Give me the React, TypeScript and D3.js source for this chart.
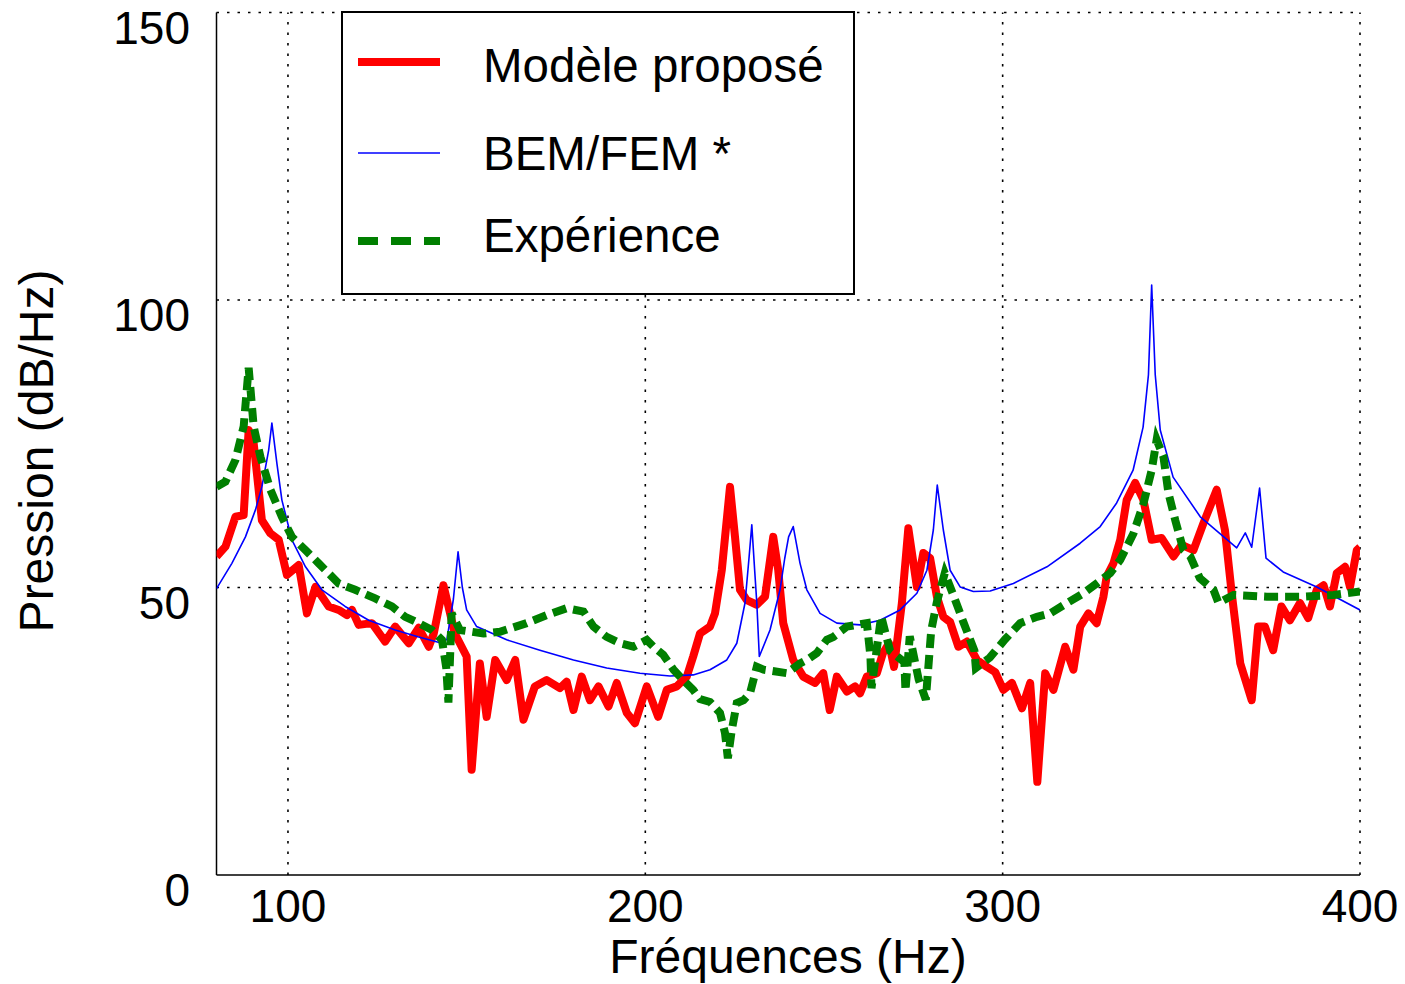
import React from "react";
import * as d3 from "d3";

// ---------- Data ----------
const xTicks = [100, 200, 300, 400];
const yTicks = [0, 50, 100, 150];

const legendLabels = ["Modèle proposé", "BEM/FEM *", "Expérience"];

// Modèle proposé (red)
const redFreq = [80, 82.5, 85.3, 87.6, 89.0, 90.4, 92.7, 95.1, 97.4, 99.7, 103, 105.3, 107.7, 111.4, 114.2, 116.5, 117.9, 119.8, 123.5, 127.2, 130, 133.8, 136.6, 139.4, 140.8, 143.5, 146.7, 150, 151.4, 153.7, 155.6, 158, 161.2, 163.6, 165.9, 169.1, 172.4, 176.1, 178, 179.9, 182.2, 184.5, 186.9, 189.7, 192, 194.8, 197.1, 200.4, 203.6, 206, 208.8, 211.6, 213.4, 215.3, 218.1, 219.5, 221.4, 223.7, 225.1, 226.5, 228.4, 231.2, 233.5, 235.8, 237.2, 238.6, 241.4, 244.2, 247.5, 249.8, 251.6, 253.6, 256.4, 258.7, 260.1, 262, 264.8, 266.5, 268.2, 269.6, 271.8, 273.6, 276, 277.8, 279.7, 281.6, 283.4, 285.3, 287.6, 290, 292.8, 295.6, 297.9, 300.2, 302.6, 305.4, 307.7, 309.7, 311.9, 314.2, 317.5, 319.8, 321.7, 324, 326.3, 328.2, 329.1, 331, 332.9, 334.7, 337.1, 339.4, 341.7, 344.5, 347.8, 350.1, 353.4, 356.2, 359.9, 362.2, 364.1, 366.5, 369.7, 371.5, 373.4, 375.7, 378, 380.4, 383.2, 385.5, 387.9, 389.8, 391.6, 393.5, 395.8, 397.2, 399.1, 400];
const redVal = [55.4, 57.1, 62.3, 62.6, 77.4, 75.1, 61.7, 59.4, 58.3, 52.2, 53.9, 45.5, 50.1, 46.7, 46.1, 45.2, 46.1, 43.5, 43.8, 40.6, 43.2, 40.3, 43, 39.7, 42, 50.4, 42, 38, 18.3, 36.8, 27.5, 37.4, 33.9, 37.4, 27, 32.8, 33.9, 32.5, 33.6, 28.7, 34.5, 30.4, 32.8, 29.3, 33.4, 28.2, 26.4, 32.8, 27.5, 32.2, 32.8, 34.5, 38, 42, 43.2, 45.5, 53, 67.5, 58.8, 49.6, 47.8, 47, 48.4, 58.8, 53, 43.8, 37.4, 34.5, 33.4, 35.1, 28.7, 34.5, 31.9, 32.8, 31.6, 34.5, 35.1, 38.6, 40.3, 36.2, 47.3, 60.3, 50.1, 56, 55.1, 48.4, 44.9, 44, 39.7, 40.6, 37.4, 36.2, 35.3, 32.2, 33.4, 29, 33.4, 16.2, 35.1, 32.2, 39.7, 35.7, 43.2, 45.5, 43.8, 48.4, 51.9, 54.2, 58.3, 65.2, 68.2, 65.2, 58.3, 58.6, 55.4, 57.4, 56.5, 61.2, 67, 60, 49, 36.8, 30.4, 43.2, 43.2, 39.1, 46.7, 44.3, 47.3, 44.7, 49.6, 50.4, 46.7, 52.5, 53.6, 50.1, 56.5, 57];

// BEM/FEM * (blue)
const blueFreq = [80, 84.3, 88.1, 90.9, 92.7, 94.6, 95.5, 96.9, 98.3, 101.1, 104.9, 109.5, 116, 122.6, 130, 136.6, 143.1, 144.5, 146.3, 147.6, 148.8, 150, 152.8, 161.2, 170.5, 179.9, 189.2, 198.5, 206.9, 213.4, 218.1, 222.8, 225.6, 227.9, 229.0, 229.8, 230.6, 231.2, 231.9, 234.9, 237.7, 239, 240.1, 241.4, 243.3, 245.2, 248.9, 253.6, 260.1, 265.7, 271.3, 276, 278.8, 280.6, 281.7, 283.4, 285.3, 288.1, 291.8, 296.5, 303, 312.4, 321.7, 327.3, 331.9, 336.5, 339.3, 340.8, 341.7, 342.7, 344.1, 347.7, 355.3, 365.5, 367.9, 369.7, 371.9, 373.7, 378.5, 387.9, 400];
const blueVal = [49.8, 54.2, 58.8, 63.5, 67.5, 73.9, 78.6, 71.6, 65.2, 58.3, 53.6, 49.6, 46.7, 44.3, 42.6, 41.4, 40.3, 41, 48, 56.2, 50, 46.1, 43.2, 40.9, 39.1, 37.4, 36, 35.1, 34.6, 34.8, 35.7, 37.4, 40.3, 47.3, 55, 60.9, 53, 47.3, 38, 42.6, 49.6, 55, 58.8, 60.6, 54.2, 49.6, 45.5, 43.8, 43.5, 44.3, 46.1, 49, 53, 60, 67.8, 60, 53, 50.1, 49.3, 49.4, 50.7, 53.6, 57.7, 60.6, 64.7, 70.4, 77.9, 87, 102.6, 87, 77.4, 69.2, 62.3, 56.9, 59.5, 57, 67.3, 55.1, 52.7, 50.1, 46.1];

// Expérience (green)
const greenFreq = [80, 82.5, 85.3, 87.6, 89, 90.4, 92.3, 95.1, 98.3, 101.1, 104.9, 108.6, 114.2, 118.8, 124.4, 129.1, 132.8, 136.6, 140.3, 143.1, 144.3, 144.9, 145.8, 148.1, 154.7, 159.3, 166.8, 172.4, 178, 182.7, 185.5, 189.2, 192.9, 196.7, 200.4, 202.3, 205, 207.9, 210.6, 213.4, 215.3, 218.1, 220.9, 222.3, 223.1, 224.2, 225.6, 227.5, 229.3, 231.2, 233.1, 239.6, 243.3, 245.2, 248, 250.8, 252.6, 256.4, 262, 263, 263.3, 266, 268.5, 272.5, 272.8, 274, 276.5, 278.5, 280, 281.6, 283.8, 286.3, 289, 292.1, 292.5, 296.4, 300.7, 304.9, 309.6, 313.3, 318, 322.6, 326.3, 330.1, 332.9, 336.6, 339.4, 341.7, 343.1, 345, 346.4, 348.3, 350.6, 352.5, 355.2, 359, 360.4, 364.6, 373.9, 383.2, 392.6, 400];
const greenVal = [67.5, 68.4, 72.2, 78, 88.2, 78, 72.7, 67, 62.3, 58.8, 56.5, 54.2, 50.7, 49.6, 48.1, 46.7, 44.9, 43.8, 42.6, 40.9, 36, 30, 45.5, 42.6, 42, 42.3, 43.8, 45.2, 46.4, 45.8, 43.2, 41.4, 40.3, 39.7, 40.9, 39.7, 38.3, 35.7, 33.9, 32.2, 30.6, 30.1, 28.2, 24.7, 20.3, 25.2, 29.9, 30.4, 31.6, 36.2, 35.7, 35.1, 36.8, 37.4, 38.6, 40.9, 41.4, 43.2, 43.8, 38, 32.5, 45, 39, 37, 32, 41.5, 34, 30.5, 42.5, 47.5, 52.5, 48.5, 44, 39, 36, 37.8, 41, 43.8, 44.9, 45.5, 47.3, 49, 50.7, 52.5, 54.8, 59.4, 64.6, 70.4, 75.7, 72.7, 66.4, 61.7, 56.5, 55.4, 51.6, 49.6, 47.3, 48.7, 48.4, 48.4, 48.7, 49.3];

// ---------- Chart ----------
const W = 1405;
const H = 984;
const FONT = "'Liberation Sans', Arial, Helvetica, sans-serif";

export default function App() {
  const x = d3.scaleLinear().domain([80, 400]).range([216.5, 1360]);
  const y = d3.scaleLinear().domain([0, 150]).range([875, 12.5]);

  const line = d3
    .line<[number, number]>()
    .x((d) => x(d[0]))
    .y((d) => y(d[1]));

  const zip = (f: number[], v: number[]) => f.map((ff, i) => [ff, v[i]] as [number, number]);

  const [x0, x1] = x.range();
  const [y0, y1] = y.range();

  const gridDash = "2.5,8";

  return (
    <svg
      width={W}
      height={H}
      style={{ position: "absolute", left: 0, top: 0, background: "#fff" }}
      fontFamily={FONT}
    >
      <rect x={0} y={0} width={W} height={H} fill="#fff" />
      <defs>
        <clipPath id="plotClip">
          <rect x={x0} y={y1} width={x1 - x0} height={y0 - y1} />
        </clipPath>
      </defs>

      {/* grid lines */}
      {xTicks.map((t) => (
        <line key={"gx" + t} x1={x(t)} x2={x(t)} y1={y0} y2={y1} stroke="#000" strokeWidth={1.6} strokeDasharray={gridDash} />
      ))}
      {yTicks.filter((t) => t > 0).map((t) => (
        <line key={"gy" + t} x1={x0} x2={x1} y1={y(t)} y2={y(t)} stroke="#000" strokeWidth={1.6} strokeDasharray={gridDash} />
      ))}

      {/* axis spines */}
      <line x1={x0} x2={x0} y1={y1} y2={y0} stroke="#000" strokeWidth={1.5} />
      <line x1={x0} x2={x1} y1={y0} y2={y0} stroke="#000" strokeWidth={1.5} />

      {/* curves */}
      <g clipPath="url(#plotClip)" fill="none">
        <path d={line(zip(redFreq, redVal)) || ""} stroke="#ff0000" strokeWidth={8} strokeLinejoin="round" />
        <path d={line(zip(blueFreq, blueVal)) || ""} stroke="#0000ff" strokeWidth={1.6} strokeLinejoin="round" />
        <path d={line(zip(greenFreq, greenVal)) || ""} stroke="#007f00" strokeWidth={8} strokeDasharray="14,7" />
      </g>

      {/* tick labels */}
      {yTicks.map((t) => (
        <text key={"ty" + t} x={190} y={y(t) + 31} textAnchor="end" fontSize={46} fill="#000">
          {t}
        </text>
      ))}
      {xTicks.map((t) => (
        <text key={"tx" + t} x={x(t)} y={922} textAnchor="middle" fontSize={46} fill="#000">
          {t}
        </text>
      ))}

      {/* axis labels */}
      <text x={788} y={973} textAnchor="middle" fontSize={48} fill="#000">
        Fréquences (Hz)
      </text>
      <text transform="translate(53,451) rotate(-90)" textAnchor="middle" fontSize={48} fill="#000">
        Pression (dB/Hz)
      </text>

      {/* legend */}
      <g>
        <rect x={342} y={12} width={512} height={282} fill="#fff" stroke="#000" strokeWidth={2} />
        <line x1={358} x2={440} y1={62} y2={62} stroke="#ff0000" strokeWidth={8} />
        <line x1={358} x2={440} y1={153} y2={153} stroke="#0000ff" strokeWidth={1.6} />
        <line x1={358} x2={440} y1={241} y2={241} stroke="#007f00" strokeWidth={8} strokeDasharray="20,13" />
        <text x={483} y={82} fontSize={47.5} fill="#000">{legendLabels[0]}</text>
        <text x={483} y={170} fontSize={47.5} fill="#000">{legendLabels[1]}</text>
        <text x={483} y={252} fontSize={47.5} fill="#000">{legendLabels[2]}</text>
      </g>
    </svg>
  );
}
